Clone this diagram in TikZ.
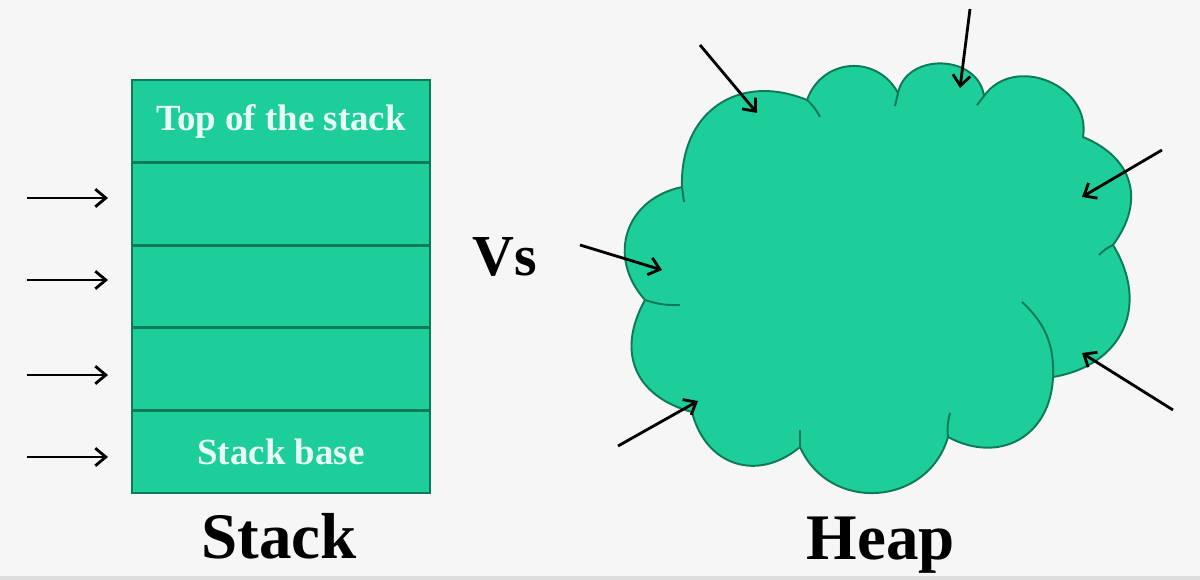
\documentclass[tikz,border=0pt]{standalone}
\usepackage{fontspec}
\setmainfont{Liberation Serif}
\usetikzlibrary{arrows.meta,positioning}
\definecolor{mint}{HTML}{1DCD9A}
\definecolor{edge}{HTML}{0F7A58}
\definecolor{pale}{HTML}{E9FFF6}
\definecolor{paper}{HTML}{F6F6F6}
\definecolor{rim}{HTML}{DCDCDC}

\begin{document}
\begin{tikzpicture}[x=0.02cm,y=-0.02cm,
cell/.style={draw=edge,fill=mint,line width=1.6pt,outer sep=0pt,inner sep=0pt,
minimum width=5.96cm,minimum height=1.652cm,text=pale,font=\bfseries\fontsize{21}{24}\selectfont},
title/.style={anchor=base,font=\bfseries\fontsize{37}{40}\selectfont},
arr/.style={-{Straight Barb[length=6pt,width=10pt,line width=1.6pt]},line width=1.6pt,black},
fold/.style={draw=edge,line width=1.1pt},
lobe/.style={bend left=#1,looseness=1.25}]
\fill[paper] (0,0) rectangle (1200,580);
\fill[rim] (0,576) rectangle (1200,580);
\useasboundingbox (0,0) rectangle (1200,580);
% stack
\node[cell] (top) at (281,121.3) {Top of the stack};
\node[cell,below=0pt of top] (s2) {};
\node[cell,below=0pt of s2] (s3) {};
\node[cell,below=0pt of s3] (s4) {};
\node[cell,below=0pt of s4] (base) {Stack base};
\foreach \r/\y in {s2/198,s3/280,s4/375,base/457}{
  \coordinate (in-\r) at (27,\y);
  \draw[arr,shorten >=0.48cm] (in-\r) -- (in-\r -| \r.west);
}
\node[title] (stacklbl) at (279,559) {Stack};
\node[anchor=base,font=\bfseries\fontsize{33}{36}\selectfont] (vs) at (505,276) {Vs};
% heap
\coordinate (c1) at (682,187);
\coordinate (c2) at (807,100);
\coordinate (c3) at (898,93);
\coordinate (c4) at (984,96);
\coordinate (c5) at (1083,137);
\coordinate (c6) at (1113,245);
\coordinate (c7) at (1053,377);
\coordinate (c8) at (948,437);
\coordinate (c9) at (800,447);
\coordinate (c10) at (692,412);
\coordinate (c11) at (645,300);
\filldraw[fill=mint,draw=edge,line width=1.1pt]
  (c1) to[lobe=57] (c2) to[lobe=66] (c3) to[lobe=80] (c4)
  to[lobe=77] (c5) to[lobe=52] (c6) to[lobe=56] (c7)
  to[lobe=58] (c8) to[lobe=70] (c9) to[lobe=58] (c10)
  to[lobe=52] (c11) to[lobe=60] (c1) -- cycle;
\draw[fold] (c1) -- (684,202);
\draw[fold] (c2) to[bend left=10] (820,117);
\draw[fold] (c3) -- (895,106);
\draw[fold] (c4) -- (977,105);
\draw[fold] (c6) to[bend right=10] (1099,255);
\draw[fold] (c7) to[bend right=25] (1022,302);
\draw[fold] (c8) to[bend left=10] (950,413);
\draw[fold] (c9) -- (800,430);
\draw[fold] (c11) to[bend right=10] (680,305);
\foreach \n/\a/\b/\c/\d in {1/700/45/757/113,2/970/9/960/88,3/1162/150/1082/197,
  4/580/245/662/270,5/1173/410/1082/353,6/618/446/698/401}{
  \coordinate (h\n-from) at (\a,\b);
  \coordinate (h\n-to) at (\c,\d);
  \draw[arr] (h\n-from) -- (h\n-to);
}
\node[title] (heaplbl) at (881,560) {Heap};
\end{tikzpicture}
\end{document}
